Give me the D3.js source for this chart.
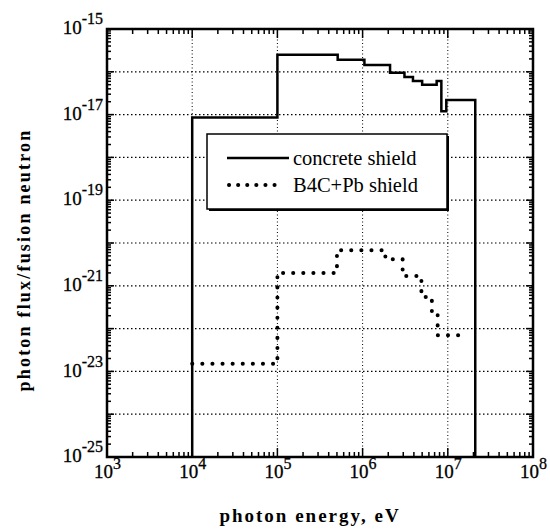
<!DOCTYPE html>
<html>
<head>
<meta charset="utf-8">
<script src="https://cdn.jsdelivr.net/npm/d3@7"></script>
<style>
  body { margin: 0; background: #fff; }
  svg { font-family: "Liberation Serif", "Times New Roman", serif; }
</style>
</head>
<body>
<svg id="chart" width="550" height="529"></svg>
<script>
// tick labels (powers of ten)
const xTickExps = [3, 4, 5, 6, 7, 8];
const yTickExps = [-15, -17, -19, -21, -23, -25];

// concrete shield: bin edges (eV) and flux per bin
const concreteEdges = [1e4, 1e5, 5.1e5, 1.05e6, 2.1e6, 3.1e6, 3.9e6, 5e6, 7.4e6, 8.4e6, 9.6e6, 2.1e7];
const concreteFlux = [8.5e-18, 2.5e-16, 1.9e-16, 1.45e-16, 9.5e-17, 7.6e-17, 6.1e-17, 5e-17, 6.1e-17, 1.2e-17, 2.2e-17];

// B4C+Pb shield
const b4cEdges = [1e4, 1e5, 5e5, 1.85e6, 2.95e6, 4.9e6, 6.5e6, 7.6e6, 1.7e7];
const b4cFlux = [1.5e-23, 2e-21, 6.8e-21, 4.2e-21, 1.7e-21, 5.5e-22, 2.5e-22, 7e-23];

const margin = { top: 29, right: 17, bottom: 72, left: 107 };
const width = 550 - margin.left - margin.right;
const height = 529 - margin.top - margin.bottom;

const x = d3.scaleLog().domain([1e3, 1e8]).range([0, width]);
const y = d3.scaleLog().domain([1e-25, 1e-15]).range([height, 0]);

const svg = d3.select("#chart")
  .append("g")
  .attr("transform", "translate(" + margin.left + "," + margin.top + ")");

// decade grid
const decadesX = d3.range(4, 8).map(e => Math.pow(10, e));
const decadesY = d3.range(-24, -15).map(e => Math.pow(10, e));

svg.append("g").selectAll("line")
  .data(decadesX)
  .enter().append("line")
  .attr("x1", d => x(d)).attr("x2", d => x(d))
  .attr("y1", 0).attr("y2", height)
  .attr("stroke", "#000").attr("stroke-width", 1)
  .attr("stroke-dasharray", "1 2.5");

svg.append("g").selectAll("line")
  .data(decadesY)
  .enter().append("line")
  .attr("x1", 0).attr("x2", width)
  .attr("y1", d => y(d)).attr("y2", d => y(d))
  .attr("stroke", "#000").attr("stroke-width", 1.2)
  .attr("stroke-dasharray", "1.5 2.5");

// minor + major ticks, inward on all four sides
function logTicks(lo, hi) {
  const out = [];
  for (let e = lo; e < hi; e++) {
    for (let m = 1; m < 10; m++) out.push({ v: m * Math.pow(10, e), major: m === 1 });
  }
  out.push({ v: Math.pow(10, hi), major: true });
  return out;
}
const xt = logTicks(3, 8);
const yt = logTicks(-25, -15);

const ticks = svg.append("g").attr("stroke", "#000").attr("stroke-width", 1.5);
ticks.selectAll(".xb").data(xt).enter().append("line")
  .attr("x1", d => x(d.v)).attr("x2", d => x(d.v))
  .attr("y1", height).attr("y2", d => height - (d.major ? 9 : 5));
ticks.selectAll(".xt").data(xt).enter().append("line")
  .attr("x1", d => x(d.v)).attr("x2", d => x(d.v))
  .attr("y1", 0).attr("y2", d => d.major ? 9 : 5);
ticks.selectAll(".yl").data(yt).enter().append("line")
  .attr("y1", d => y(d.v)).attr("y2", d => y(d.v))
  .attr("x1", 0).attr("x2", d => d.major ? 7 : 4);
ticks.selectAll(".yr").data(yt).enter().append("line")
  .attr("y1", d => y(d.v)).attr("y2", d => y(d.v))
  .attr("x1", width).attr("x2", d => width - (d.major ? 7 : 4));

// axes used for labels only
const xAxis = svg.append("g")
  .attr("transform", "translate(0," + height + ")")
  .call(d3.axisBottom(x).tickValues(xTickExps.map(e => Math.pow(10, e))).tickSize(0).tickPadding(7));
xAxis.select(".domain").remove();
xAxis.selectAll(".tick text").each(function(d, i) {
  const t = d3.select(this).text(null)
    .attr("font-size", 19).attr("font-family", "Liberation Serif").attr("fill", "#000")
    .attr("stroke", "#000").attr("stroke-width", 0.3)
    .attr("dy", "0.75em");
  t.append("tspan").text("10");
  t.append("tspan").text(xTickExps[i]).attr("dy", -9).attr("font-size", 16);
});

const yAxis = svg.append("g")
  .call(d3.axisLeft(y).tickValues(yTickExps.map(e => Math.pow(10, e))).tickSize(0).tickPadding(4));
yAxis.select(".domain").remove();
yAxis.selectAll(".tick text").each(function(d, i) {
  const t = d3.select(this).text(null)
    .attr("font-size", 19).attr("font-family", "Liberation Serif").attr("fill", "#000")
    .attr("stroke", "#000").attr("stroke-width", 0.3)
    .attr("dy", "0.25em");
  t.append("tspan").text("10");
  t.append("tspan").text(yTickExps[i]).attr("dy", -10).attr("font-size", 16);
});

// frame
svg.append("rect")
  .attr("width", width).attr("height", height)
  .attr("fill", "none").attr("stroke", "#000").attr("stroke-width", 2.5);

// step series
function stepPoints(edges, flux, toFloor) {
  const floor = y.domain()[0];
  const pts = [];
  if (toFloor) pts.push([edges[0], floor]);
  flux.forEach((v, i) => pts.push([edges[i], v]));
  pts.push([edges[edges.length - 1], flux[flux.length - 1]]);
  if (toFloor) pts.push([edges[edges.length - 1], floor]);
  return pts;
}
const line = d3.line()
  .x(p => x(p[0]))
  .y(p => y(p[1]))
  .curve(d3.curveStepAfter);

svg.append("path")
  .datum(stepPoints(concreteEdges, concreteFlux, true))
  .attr("d", line)
  .attr("fill", "none")
  .attr("stroke", "#000")
  .attr("stroke-width", 2.5);

svg.append("path")
  .datum(stepPoints(b4cEdges, b4cFlux, false))
  .attr("d", line)
  .attr("fill", "none")
  .attr("stroke", "#000")
  .attr("stroke-width", 4)
  .attr("stroke-linecap", "round")
  .attr("stroke-dasharray", "0.1 10");

// legend
const legend = svg.append("g").attr("transform", "translate(" + (207 - margin.left) + "," + (134 - margin.top) + ")");
legend.append("rect")
  .attr("x", 2).attr("y", 2).attr("width", 240).attr("height", 75)
  .attr("fill", "#000");
legend.append("rect")
  .attr("width", 240).attr("height", 75)
  .attr("fill", "#fff").attr("stroke", "#000").attr("stroke-width", 1.5);
legend.append("line")
  .attr("x1", 20).attr("x2", 82).attr("y1", 24).attr("y2", 24)
  .attr("stroke", "#000").attr("stroke-width", 2.5);
legend.append("line")
  .attr("x1", 22).attr("x2", 76).attr("y1", 51).attr("y2", 51)
  .attr("stroke", "#000").attr("stroke-width", 4)
  .attr("stroke-linecap", "round").attr("stroke-dasharray", "0.1 9");
legend.append("text").attr("x", 86).attr("y", 31)
  .attr("font-size", 20.5).text("concrete shield");
legend.append("text").attr("x", 86).attr("y", 58)
  .attr("font-size", 20.5).text("B4C+Pb shield");

// axis titles
d3.select("#chart").append("text")
  .attr("x", 310).attr("y", 522)
  .attr("text-anchor", "middle")
  .attr("font-size", 19).attr("font-weight", "bold")
  .attr("letter-spacing", 2)
  .text("photon  energy,  eV");

d3.select("#chart").append("text")
  .attr("transform", "translate(30,260) rotate(-90)")
  .attr("text-anchor", "middle")
  .attr("font-size", 18).attr("font-weight", "bold")
  .attr("letter-spacing", 2.2)
  .text("photon flux/fusion neutron");
</script>
</body>
</html>
